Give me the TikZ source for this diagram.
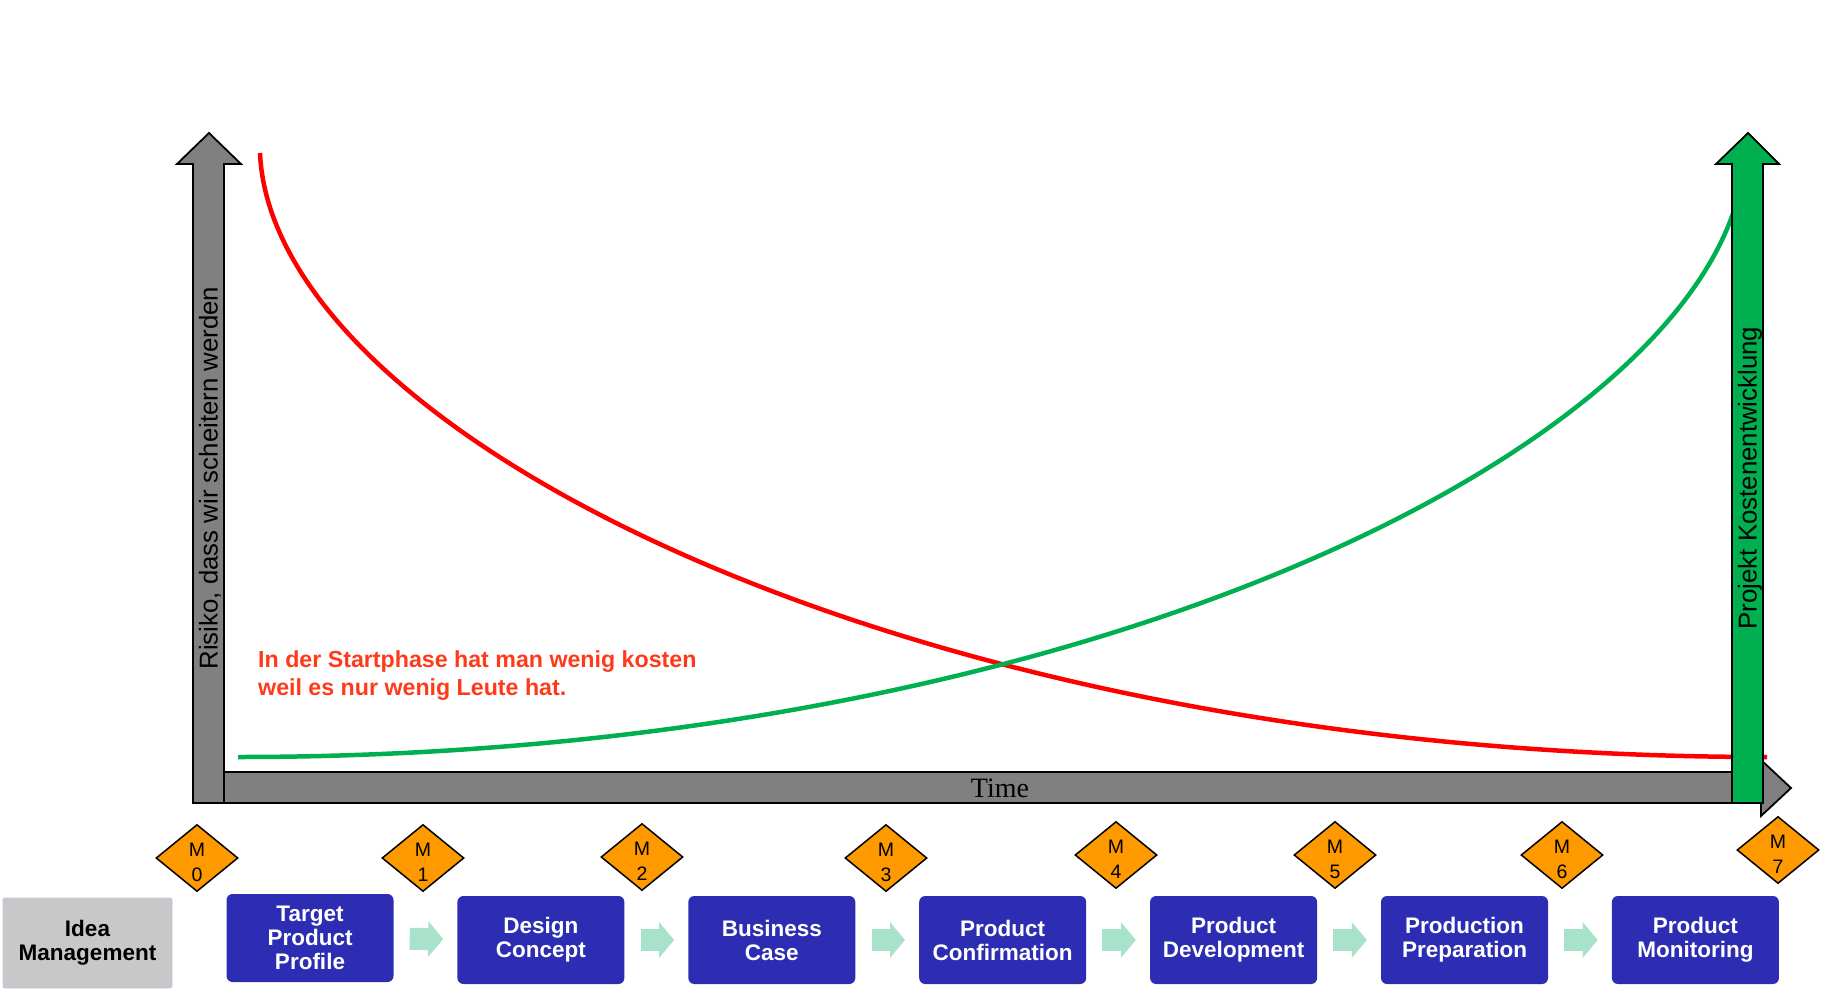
\documentclass[tikz,border=0pt]{standalone}
\usepackage{fontspec}
\setmainfont{Liberation Sans}
\newfontfamily\serifface{Liberation Serif}
\usetikzlibrary{shapes.geometric, arrows.meta, positioning}
\definecolor{PhaseBlue}{HTML}{2D2DB4}
\definecolor{IdeaGrey}{HTML}{C8C8C8}
\definecolor{IdeaEdge}{HTML}{C4C4E6}
\definecolor{AxisGrey}{HTML}{808080}
\definecolor{CostGreen}{HTML}{00B050}
\definecolor{RiskRed}{HTML}{FF0000}
\definecolor{NoteRed}{HTML}{FF3A1A}
\definecolor{MileOrange}{HTML}{FF9900}
\definecolor{FlowMint}{HTML}{A9E2CB}

\tikzset{
  phase/.style={rectangle, rounded corners=6pt, fill=PhaseBlue, text=white,
    minimum width=167pt, minimum height=88pt, inner sep=0pt, align=center,
    font=\fontsize{22.5}{24}\selectfont\bfseries},
  milestone/.style={diamond, draw=black, line width=1.5pt, fill=MileOrange,
    minimum width=82pt, minimum height=67pt, inner sep=0pt},
  miletext/.style={align=center, yshift=-4pt, font=\fontsize{19.5}{25}\selectfont},
  flow/.style={FlowMint, line width=22pt, -{Triangle[length=15pt,width=35pt]},
    shorten <=16pt, shorten >=14pt},
  axisarrow/.style={draw=black, line width=1.8pt, line join=miter},
  curve/.style={line width=4.5pt},
}

\begin{document}
\begin{tikzpicture}[x=1pt, y=-1pt]
    \useasboundingbox (0,0) rectangle (1822,1006);

    % Curves
    \draw[curve, RiskRed] (260,153) .. controls (272,430) and (900,757) .. (1767,757);
    \draw[curve, CostGreen] (238,757) .. controls (1105,757) and (1733,430) .. (1745,153);

    % Axes
    \draw[axisarrow, fill=AxisGrey] (224,772) -- (1761,772) -- (1761,760) -- (1791,788)
        -- (1761,816) -- (1761,803) -- (224,803) -- cycle;
    \draw[axisarrow, fill=AxisGrey] (193,803) -- (193,164) -- (177,164) -- (209,133)
        -- (241,164) -- (224,164) -- (224,803) -- cycle;
    \draw[axisarrow, fill=CostGreen] (1732,803) -- (1732,164) -- (1716,164) -- (1748,133)
        -- (1779,164) -- (1763,164) -- (1763,803) -- cycle;

    \node[rotate=90, font=\fontsize{25.8}{25.8}\selectfont] (risk) at (210,478) {Risiko, dass wir scheitern werden};
    \node[rotate=90, font=\fontsize{25.8}{25.8}\selectfont] (cost) at (1750,478) {Projekt Kostenentwicklung};
    \node[anchor=base, font=\serifface\fontsize{28}{28}\selectfont] (time) at (1000,797) {Time};

    \node[anchor=north west, inner sep=0pt, align=left, text=NoteRed,
        font=\fontsize{23.2}{28}\selectfont\bfseries] (note) at (258,650)
        {In der Startphase hat man wenig kosten\\weil es nur wenig Leute hat.};

    % Milestones
    \foreach \i/\x/\y in {0/197/858, 1/423/858, 2/642/857, 3/886/858,
                          4/1116/855, 5/1335/855, 6/1562/855, 7/1778/850}
        \node[milestone, label={[miletext]center:M\\\i}] (m\i) at (\x,\y) {};

    % Phases
    \node[phase, fill=IdeaGrey, text=black, draw=IdeaEdge, line width=0.8pt,
        rounded corners=2pt, minimum width=169pt, minimum height=90pt] (idea) at (87.5,943) {Idea\\Management};
    \node[phase] (tpp) at (310,938) {Target\\Product\\Profile};
    \node[phase, right=63.5pt of tpp, yshift=-2pt] (dc) {Design\\Concept};
    \node[phase, right=63.5pt of dc] (bc) {Business\\Case};
    \node[phase, right=63.5pt of bc] (pc) {Product\\Confirmation};
    \node[phase, right=63.5pt of pc] (pd) {Product\\Development};
    \node[phase, right=63.5pt of pd] (pp) {Production\\Preparation};
    \node[phase, right=63.5pt of pp] (pm) {Product\\Monitoring};

    \foreach \a/\b in {tpp/dc, dc/bc, bc/pc, pc/pd, pd/pp, pp/pm}
        \draw[flow] (\a) -- (\b);
\end{tikzpicture}
\end{document}
